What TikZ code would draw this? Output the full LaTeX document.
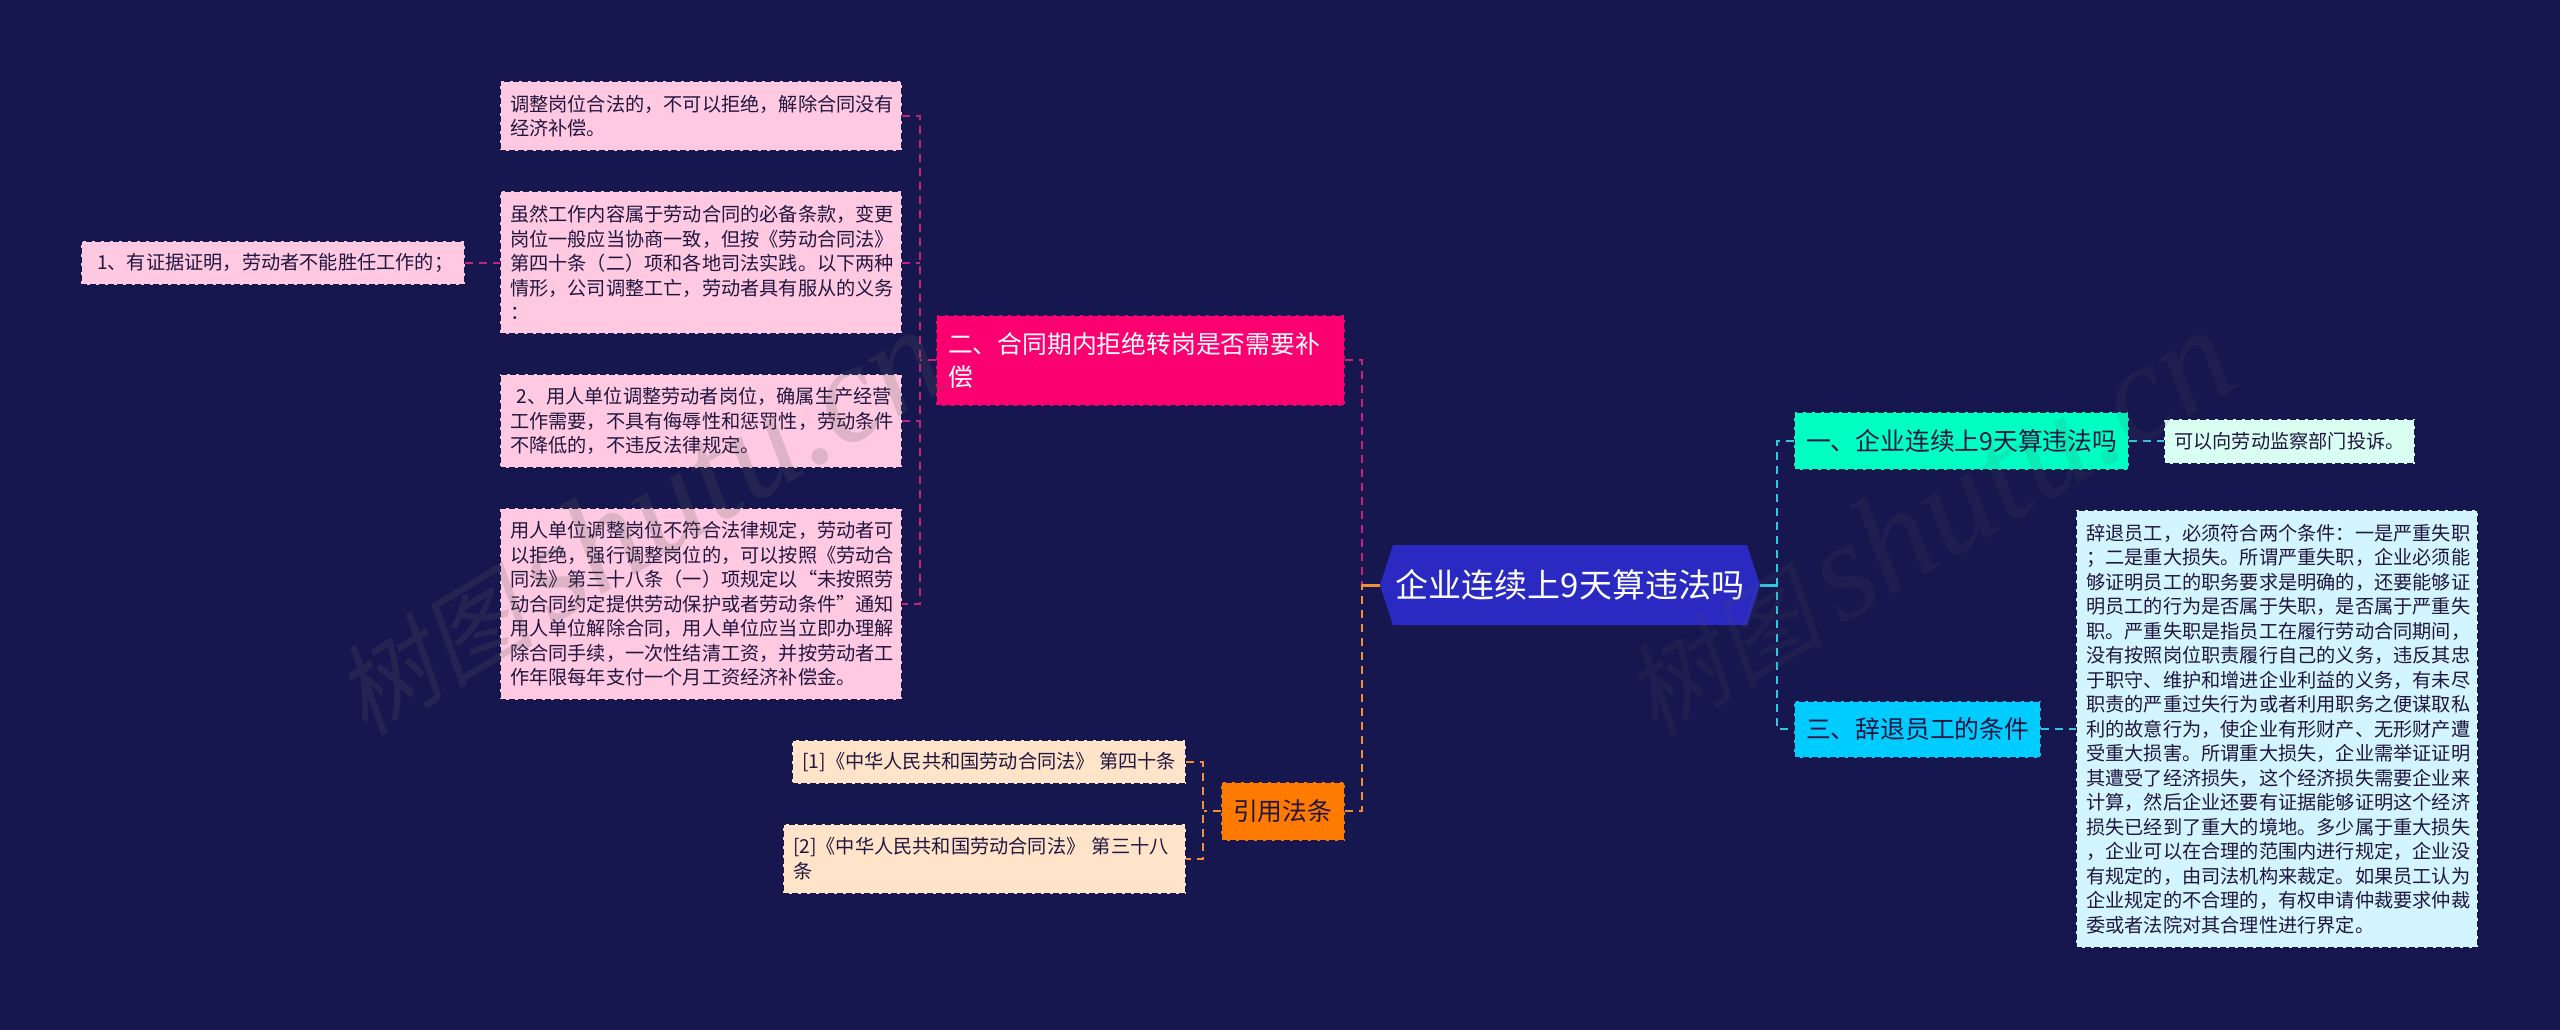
\documentclass[tikz,border=0pt]{standalone}
\usepackage{fontspec}
\setmainfont{Noto Sans CJK SC}
\newfontfamily\markfont[ItalicFont={Liberation Serif Italic}]{Liberation Serif}
\newfontfamily\markcjk[FakeSlant=0.2]{Noto Sans CJK SC}
\usepackage{xcolor}
\usetikzlibrary{positioning,shapes.symbols}

\definecolor{pagebg}{HTML}{16174F}
\definecolor{rootblue}{HTML}{2A2AC2}
\definecolor{pinkmain}{HTML}{FC0072}
\definecolor{pinkleaf}{HTML}{FFCAE1}
\definecolor{pinkwire}{HTML}{C4227F}
\definecolor{orangemain}{HTML}{FF7A00}
\definecolor{orangeleaf}{HTML}{FFE4C9}
\definecolor{orangewire}{HTML}{F0903A}
\definecolor{greenmain}{HTML}{00FFC3}
\definecolor{greenleaf}{HTML}{D9FFF3}
\definecolor{cyanmain}{HTML}{00CCFF}
\definecolor{cyanleaf}{HTML}{D2F5FF}
\definecolor{cyanwire}{HTML}{30C8E0}
\definecolor{inkdark}{HTML}{211640}
\definecolor{markgrey}{HTML}{5A5A5A}

\begin{document}
\begin{tikzpicture}[
    x=1pt, y=-1pt,
    node distance=40pt and 35pt,
    edged/.style={rectangle, draw=pagebg, line width=2pt, dash pattern=on 6pt off 3pt, outer sep=0pt, align=left},
    mainbox/.style={edged, inner xsep=12pt, inner ysep=0pt, font=\fontsize{24.8}{33}\selectfont},
    leafbox/.style={edged, inner xsep=10pt, inner ysep=0pt, text=inkdark, font=\fontsize{19.2}{24.5}\selectfont},
    wire/.style={line width=2pt, dash pattern=on 8pt off 6pt},
    stub/.style={line width=3pt},
    watermark/.style={rotate=31, text=markgrey, text opacity=0.2, font=\fontsize{100}{100}\selectfont}
]
    \fill[pagebg] (0,0) rectangle (2560,1030);

    \node[signal, signal to=west and east, signal pointer angle=144, fill=rootblue, outer sep=0pt, inner sep=0pt,
          minimum width=380pt, minimum height=80pt, text=white, font=\fontsize{33}{36}\selectfont] (root) at (1570,585) {企业连续上9天算违法吗};

    \node[mainbox, fill=pinkmain, text=white, minimum width=409pt, minimum height=91pt, text width=385pt, anchor=east] (refuse) at (1345,360) {二、合同期内拒绝转岗是否需要补\\偿};
    \node[mainbox, fill=orangemain, text=inkdark, minimum width=124.5pt, minimum height=59pt, anchor=east] (statute) at (1345,811) {引用法条};
    \node[mainbox, fill=greenmain, text=inkdark, minimum width=335pt, minimum height=58pt, anchor=west] (overtime) at (1794,441) {一、企业连续上9天算违法吗};
    \node[mainbox, fill=cyanmain, text=inkdark, minimum width=247pt, minimum height=57pt, anchor=west] (dismiss) at (1794,729) {三、辞退员工的条件};

    \node[leafbox, fill=pinkleaf, text width=382pt, minimum height=70pt, anchor=north west] (adjustok) at (500,81) {调整岗位合法的，不可以拒绝，解除合同没有\\经济补偿。};
    \node[leafbox, fill=pinkleaf, text width=382pt, minimum height=143pt, below=of adjustok] (duty) {虽然工作内容属于劳动合同的必备条款，变更\\岗位一般应当协商一致，但按《劳动合同法》\\第四十条（二）项和各地司法实践。以下两种\\情形，公司调整工亡，劳动者具有服从的义务\\：};
    \node[leafbox, fill=pinkleaf, text width=382pt, minimum height=94pt, below=of duty] (needs) {~2、用人单位调整劳动者岗位，确属生产经营\\工作需要，不具有侮辱性和惩罚性，劳动条件\\不降低的，不违反法律规定。};
    \node[leafbox, fill=pinkleaf, text width=382pt, minimum height=191.5pt, below=of needs] (illegal) {用人单位调整岗位不符合法律规定，劳动者可\\以拒绝，强行调整岗位的，可以按照《劳动合\\同法》第三十八条（一）项规定以“未按照劳\\动合同约定提供劳动保护或者劳动条件”通知\\用人单位解除合同，用人单位应当立即办理解\\除合同手续，一次性结清工资，并按劳动者工\\作年限每年支付一个月工资经济补偿金。};
    \node[leafbox, fill=pinkleaf, minimum width=384pt, minimum height=44pt, left=35pt of duty] (proof) {~1、有证据证明，劳动者不能胜任工作的；};

    \node[leafbox, fill=orangeleaf, minimum width=393pt, minimum height=44pt, anchor=north east] (lawone) at (1186,740) {[1]《中华人民共和国劳动合同法》 第四十条};
    \node[leafbox, fill=orangeleaf, text width=383pt, minimum height=69.5pt, below=of lawone.south east, anchor=north east] (lawtwo) {[2]《中华人民共和国劳动合同法》 第三十八\\条};

    \node[leafbox, fill=greenleaf, minimum width=249pt, minimum height=45pt, right=of overtime] (complain) {可以向劳动监察部门投诉。};
    \node[leafbox, fill=cyanleaf, text width=382pt, minimum height=437.5pt, right=of dismiss] (terms) {辞退员工，必须符合两个条件：一是严重失职\\；二是重大损失。所谓严重失职，企业必须能\\够证明员工的职务要求是明确的，还要能够证\\明员工的行为是否属于失职，是否属于严重失\\职。严重失职是指员工在履行劳动合同期间，\\没有按照岗位职责履行自己的义务，违反其忠\\于职守、维护和增进企业利益的义务，有未尽\\职责的严重过失行为或者利用职务之便谋取私\\利的故意行为，使企业有形财产、无形财产遭\\受重大损害。所谓重大损失，企业需举证证明\\其遭受了经济损失，这个经济损失需要企业来\\计算，然后企业还要有证据能够证明这个经济\\损失已经到了重大的境地。多少属于重大损失\\，企业可以在合理的范围内进行规定，企业没\\有规定的，由司法机构来裁定。如果员工认为\\企业规定的不合理的，有权申请仲裁要求仲裁\\委或者法院对其合理性进行界定。};

    \draw[wire, pinkwire] (adjustok.east) -- ++(18,0) |- (illegal.east);
    \foreach \leaf in {duty,needs} {
        \draw[wire, pinkwire] (\leaf.east) -- ++(18,0);
    }
    \draw[wire, pinkwire] (refuse.west) -- ++(-16,0);
    \draw[wire, pinkwire] (proof.east) -- (duty.west);
    \draw[wire, pinkwire] (refuse.east) -- ++(17,0) |- (root.west);
    \draw[wire, orangewire] (statute.east) -- ++(17,0) |- (root.west);
    \draw[stub, orangewire] (root.west) -- ++(-18,0);
    \draw[wire, orangewire] (lawone.east) -- ++(17,0) |- (lawtwo.east);
    \draw[wire, orangewire] (statute.west) -- ++(-17,0);

    \draw[stub, cyanwire] (root.east) -- ++(17.5,0);
    \draw[wire, cyanwire] (overtime.west) -- ++(-17,0) |- (dismiss.west);
    \draw[wire, cyanwire] (overtime.east) -- (complain.west);
    \draw[wire, cyanwire] (dismiss.east) -- (terms.west);

    \node[watermark] (markleft) at (637,522) {{\markcjk 树图}\,{\markfont\itshape\fontsize{140}{140}\selectfont shutu.cn}};
    \node[watermark, text opacity=0.12] (markright) at (1927,522) {{\markcjk 树图}\,{\markfont\itshape\fontsize{140}{140}\selectfont shutu.cn}};
\end{tikzpicture}
\end{document}
